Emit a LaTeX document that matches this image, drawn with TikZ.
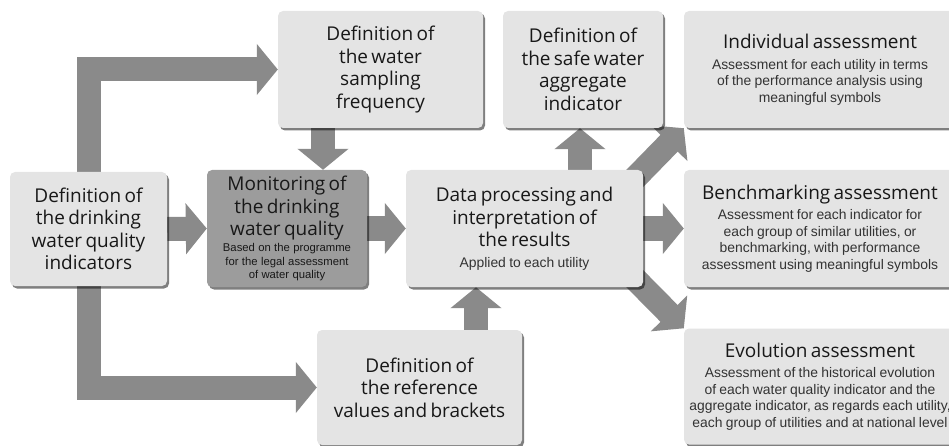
\documentclass[tikz,border=0pt]{standalone}
\usepackage{fontspec}
\usetikzlibrary{arrows.meta,shadows}
\newfontfamily\headfamily{Open Sans}
\newfontfamily\notefamily{Liberation Sans}
\definecolor{boxfill}{HTML}{E4E4E4}
\definecolor{darkfill}{HTML}{9C9C9C}
\definecolor{flowgray}{HTML}{8A8A8A}
\definecolor{ink}{HTML}{181818}
\definecolor{subink}{HTML}{333333}
\pgfdeclarelayer{flows}
\pgfsetlayers{flows,main}
% type styles for box titles and notes
\newcommand{\boxtitle}{\headfamily\fontsize{19}{22.5}\selectfont}
\newcommand{\boxnote}{\notefamily\fontsize{13.9}{16.5}\selectfont\color{subink}}
\newcommand{\boxsmall}{\notefamily\fontsize{11.3}{13.5}\selectfont}
% the assessment boxes run on past the right margin; keep their text
% centred on the visible part
\newcommand{\openright}{\leftskip=0pt plus 1fil\relax
  \rightskip=28pt plus 1fil\relax\parfillskip=0pt\relax}
\tikzset{
  box/.style={rounded corners=5pt, fill=boxfill, inner sep=0pt, align=center, text=ink,
    drop shadow={shadow xshift=2pt, shadow yshift=-2.5pt, fill=black, opacity=0.5}},
  widebox/.style={box, minimum width=300pt, text width=300pt},
  flow/.style={draw=flowgray, line width=24pt, -{Triangle[width=50pt,length=21pt]}},
}
\begin{document}
\begin{tikzpicture}[x=1pt,y=-1pt]
\useasboundingbox (0,0) rectangle (949,446);

% left column
\node[box, minimum width=157pt, minimum height=114pt, text width=150pt] (def) at (88.5,229)
  {\boxtitle Definition of\\the drinking\\water quality\\indicators\par};

% second column
\node[box, minimum width=205pt, minimum height=117pt, text width=198pt] (samp) at (380.5,69.5)
  {\boxtitle Definition of\\the water\\sampling\\frequency\par};
\node[box, fill=darkfill, minimum width=160pt, minimum height=117pt, text width=154pt] (mon) at (287,228.5)
  {\boxtitle Monitoring of\\the drinking\\water quality\par\vspace{2.4pt}%
   \boxsmall Based on the programme\\for the legal assessment\\of water quality\par};
\node[box, minimum width=205pt, minimum height=115pt, text width=198pt] (ref) at (419.5,387.5)
  {\boxtitle Definition of\\the reference\\values and brackets\par};

% third column
\node[box, minimum width=237pt, minimum height=117pt, text width=230pt] (data) at (524.5,228.5)
  {\boxtitle Data processing and\\interpretation of\\the results\par\vspace{4pt}%
   \boxnote Applied to each utility\par};
\node[box, minimum width=160pt, minimum height=117pt, text width=154pt] (safe) at (583,69.5)
  {\boxtitle Definition of\\the safe water\\aggregate\\indicator\par};

% assessment column
\node[widebox, minimum height=117pt] (ind) at (834,69.5)
  {\openright\boxtitle Individual assessment\par\vspace{4pt}%
   \boxnote Assessment for each utility in terms\\of the performance analysis using\\meaningful symbols\par};
\node[widebox, minimum height=117pt] (bench) at (834,228.5)
  {\openright\boxtitle Benchmarking assessment\par\vspace{4pt}%
   \boxnote Assessment for each indicator for\\each group of similar utilities, or\\benchmarking, with performance\\assessment using meaningful symbols\par};
\node[widebox, minimum height=116pt] (evo) at (834,386.5)
  {\openright\boxtitle Evolution assessment\par\vspace{4pt}%
   \boxnote Assessment of the historical evolution\\of each water quality indicator and the\\aggregate indicator, as regards each utility,\\each group of utilities and at national level\par};

% columns of the straight vertical flows
\coordinate (xs) at (323,0);
\coordinate (xr) at (476,0);
\coordinate (xa) at (580,0);

\begin{pgfonlayer}{flows}
  \draw[flow] (def.north) |- (samp.west);
  \draw[flow] (def.south) |- (ref.west);
  \draw[flow] (def.east) -- (mon.west);
  \draw[flow] (samp.south -| xs) -- (mon.north -| xs);
  \draw[flow] (mon.east) -- (data.west);
  \draw[flow] (ref.north -| xr) -- (data.south -| xr);
  \draw[flow] (data.north -| xa) -- (safe.south -| xa);
  \draw[flow] (data.east) -- (bench.west);
  \draw[flow, shorten <=-40pt] (data.north east) -- (ind.south west);
  \draw[flow, shorten <=-40pt] (data.south east) -- (evo.north west);
\end{pgfonlayer}
\end{tikzpicture}
\end{document}
